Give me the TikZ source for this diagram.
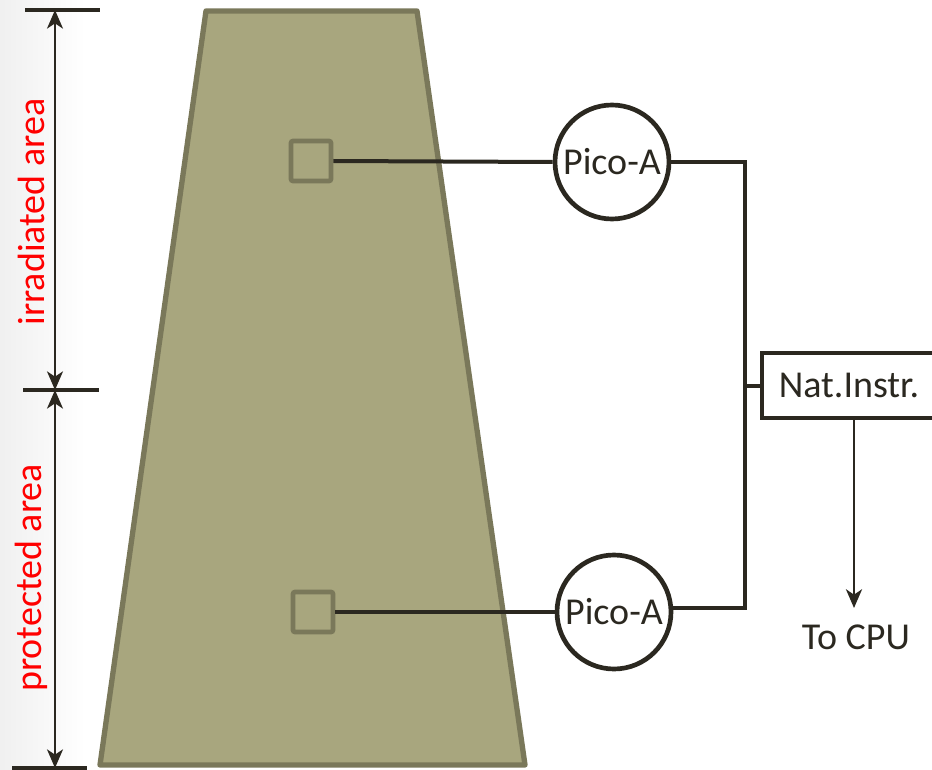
\documentclass[tikz,border=0pt]{standalone}
\usepackage{fontspec}
\setmainfont{Carlito}
\usetikzlibrary{arrows.meta}
\definecolor{olivefill}{HTML}{A8A67E}
\definecolor{olivedraw}{HTML}{7A785A}
\definecolor{inkdark}{HTML}{2B2820}
\tikzset{
  wire/.style={draw=inkdark, line width=3pt},
  dimarrow/.style={draw=inkdark, line width=1.6pt, -{Stealth[length=14pt,width=12pt,inset=4pt]}},
  tick/.style={draw=inkdark, line width=3.2pt},
  sensor/.style={draw=olivedraw, line width=3.5pt, rounded corners=1.5pt, minimum size=30pt, inner sep=0pt},
  picobox/.style={circle, draw=inkdark, line width=3.5pt, fill=white, minimum size=85.5pt, inner sep=0pt, font=\fontsize{28.5}{31}\selectfont, text=inkdark},
  instrbox/.style={rectangle, draw=inkdark, line width=3pt, fill=white, minimum width=129pt, minimum height=48.5pt, inner sep=0pt},
  lbl/.style={font=\fontsize{28.5}{31}\selectfont, text=inkdark},
  redlbl/.style={font=\fontsize{28.5}{31}\selectfont, text=red, rotate=90}
}
\begin{document}
\begin{tikzpicture}[x=0.75pt,y=-0.75pt]
\useasboundingbox (0,0) rectangle (932,770);
\shade[left color=black!6, right color=white] (0,0) rectangle (85,770);
% trapezoid
\draw[draw=olivedraw, fill=olivefill, line width=4pt, line join=round] (206,11) -- (417,11) -- (525,765) -- (100,765) -- cycle;
% sensors
\node[sensor] (s1) at (311,161) {};
\node[sensor] (s2) at (313,612) {};
% pico nodes
\node[picobox] (p1) at (612,162) {Pico-A};
\node[picobox] (p2) at (614,612) {Pico-A};
% Nat Instr
\node[instrbox] (ni) at (848,385.5) {};
\node[lbl] (nit) at (849,385) {Nat.Instr.};
\node[lbl] (cpu) at (856,637) {To CPU};
\coordinate (jt) at (745,162);
\coordinate (jb) at (745,608);
% wires
\draw[wire] (s1.east) -- (p1.west);
\draw[wire] (s2.east) -- (p2.west);
\draw[wire, line join=miter] (p1.east) -- (jt) -- (jb) -- (p2.east |- jb);
\draw[wire] (jt |- ni.west) -- (ni.west);
\draw[draw=inkdark, line width=2pt, -{Stealth[length=14pt,width=12pt,inset=4pt]}] (ni.south -| 854,0) -- (854,608);
% dimension ticks
\coordinate (d0) at (55,10);
\coordinate (d1) at (55,390);
\coordinate (d2) at (55,768);
\draw[tick] (25,10) -- (100,10);
\draw[tick] (23,390) -- (99,390);
\draw[tick] (12,768) -- (87,768);
\draw[dimarrow] (55,200) -- (d0);
\draw[dimarrow] (55,200) -- (d1);
\draw[dimarrow] (55,580) -- (d1);
\draw[dimarrow] (55,580) -- (d2);
\node[redlbl] (irr) at (31,212) {irradiated area};
\node[redlbl] (prot) at (31,578) {protected area};
\end{tikzpicture}
\end{document}
